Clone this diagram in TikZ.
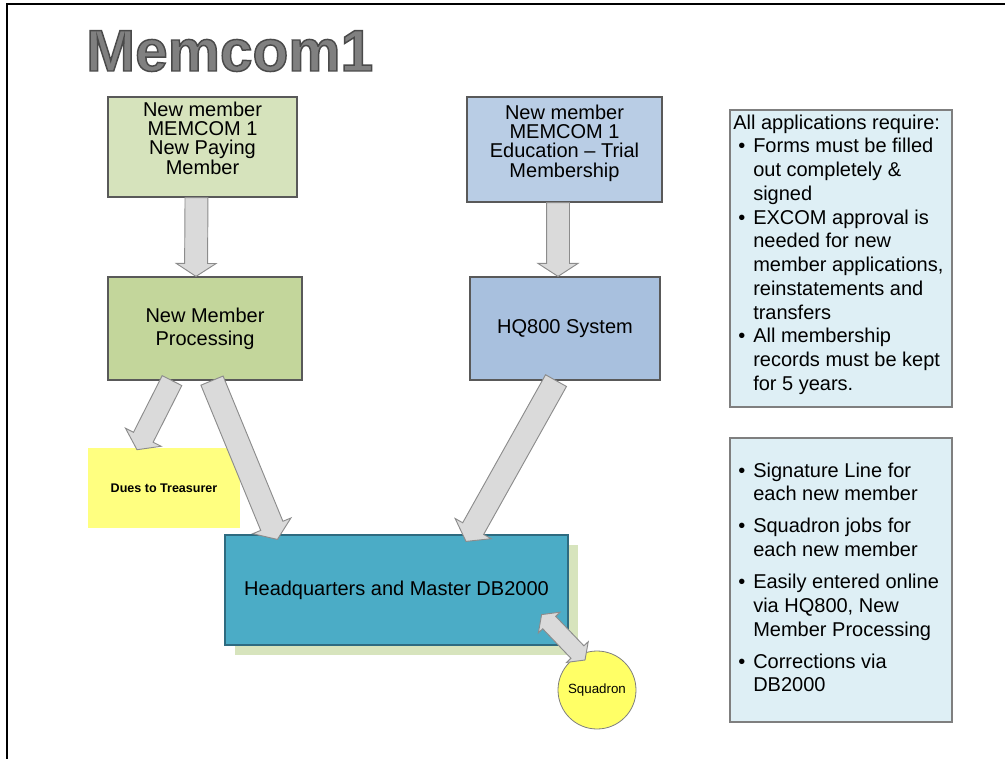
\documentclass[tikz,border=0pt]{standalone}
\usepackage{fontspec}
\setmainfont{Liberation Sans}
\newfontfamily\titlefont[FakeBold=2.5]{Liberation Sans Bold}
\usetikzlibrary{calc}
\definecolor{titlefill}{HTML}{808080}
\definecolor{titleline}{HTML}{4A4A4A}
\definecolor{greenA}{HTML}{D6E3BC}
\definecolor{greenB}{HTML}{C3D69B}
\definecolor{blueC}{HTML}{B9CDE5}
\definecolor{blueD}{HTML}{A8C0DE}
\definecolor{tealF}{HTML}{4BACC6}
\definecolor{tealline}{HTML}{2E6B80}
\definecolor{shadowF}{HTML}{D7E4BD}
\definecolor{yellowE}{HTML}{FFFF80}
\definecolor{yellowG}{HTML}{FFFF66}
\definecolor{infofill}{HTML}{DEEFF5}
\definecolor{infoline}{HTML}{7F7F7F}
\definecolor{boxline}{HTML}{595959}
\definecolor{arrowfill}{HTML}{DADADA}
\definecolor{arrowline}{HTML}{8C8C8C}
\newcommand\itm{\hspace*{3.75pt}\makebox[11.25pt][l]{•}}
\newcommand\cnt{\hspace*{15pt}}
\newcommand\blockarrow[5]{%
  \coordinate (bah) at ($(#2)!#5!(#1)$);
  \filldraw[arrowshape] ($(#1)!#3!90:(#2)$) -- ($(bah)!#3!-90:(#1)$) -- ($(bah)!#4!-90:(#1)$) -- (#2) -- ($(bah)!#4!90:(#1)$) -- ($(bah)!#3!90:(#1)$) -- ($(#1)!#3!-90:(#2)$) -- cycle;}
\newcommand\dblarrow[5]{%
  \coordinate (dah) at ($(#1)!#5!(#2)$);
  \coordinate (dbh) at ($(#2)!#5!(#1)$);
  \filldraw[arrowshape] (#1) -- ($(dah)!#4!90:(#2)$) -- ($(dah)!#3!90:(#2)$) -- ($(dbh)!#3!-90:(#1)$) -- ($(dbh)!#4!-90:(#1)$) -- (#2) -- ($(dbh)!#4!90:(#1)$) -- ($(dbh)!#3!90:(#1)$) -- ($(dah)!#3!-90:(#2)$) -- ($(dah)!#4!-90:(#2)$) -- cycle;}
\tikzset{
  frameline/.style={line width=1.5pt, draw=black},
  procbox/.style={draw=boxline, line width=0.9pt, inner sep=0pt, align=center, font=\fontsize{15}{14.5}\selectfont},
  boxtext/.style={inner sep=0pt, align=center, font=\fontsize{15}{14.5}\selectfont},
  infobox/.style={draw=infoline, fill=infofill, line width=0.9pt, inner sep=0pt},
  infotext/.style={inner sep=0pt, anchor=north west, align=left, font=\fontsize{15}{17.8}\selectfont},
  arrowshape/.style={fill=arrowfill, draw=arrowline, line width=0.7pt, line join=miter},
}
\begin{document}
\begin{tikzpicture}[x=0.75pt,y=-0.75pt]
\useasboundingbox (0,0) rectangle (1005,759);
% frame
\coordinate (fbl) at (7,759);
\coordinate (ftl) at (7,4);
\coordinate (ftr) at (1005,4);
\draw[frameline] (fbl) -- (ftl) -- (ftr);
% title
\node[anchor=base west, inner sep=0pt, text=titlefill, font=\fontsize{44}{50}\selectfont\titlefont] (title) at (86,71) {\special{pdf:literal direct 0.29 0.29 0.29 RG}Memcom1};
% boxes
\node[procbox, fill=greenA, minimum width=141.75pt, minimum height=75pt] (A) at (202.5,147) {};
\node[boxtext] (At) at (202.5,138) {New member\\MEMCOM 1\\New Paying\\Member};
\node[procbox, fill=greenB, minimum width=145.5pt, minimum height=77.25pt, font=\fontsize{15}{17}\selectfont] (B) at (205,328.5) {New Member\\Processing};
\node[procbox, fill=blueC, minimum width=146.25pt, minimum height=78.75pt] (C) at (564.5,149.5) {};
\node[boxtext] (Ct) at (564.5,143) {New member\\MEMCOM 1\\Education – Trial\\Membership};
\node[procbox, fill=blueD, minimum width=142.5pt, minimum height=77.25pt] (D) at (565,328.5) {HQ800 System};
\node[fill=yellowE, inner sep=0pt, minimum width=114pt, minimum height=60pt, font=\fontsize{9.4}{11}\selectfont\bfseries] (E) at (164,488) {Dues to Treasurer};
\node[fill=shadowF, inner sep=0pt, minimum width=257.25pt, minimum height=82.5pt] (Fs) at (406.5,600) {};
\node[procbox, draw=tealline, fill=tealF, minimum width=257.25pt, minimum height=82.5pt] (F) at (396.5,590) {Headquarters and Master DB2000};
\node[circle, draw=infoline, line width=0.6pt, fill=yellowG, inner sep=0pt, minimum size=58.5pt, font=\fontsize{10}{12}\selectfont] (G) at (597,690) {Squadron};
% info boxes
\node[infobox, minimum width=166.5pt, minimum height=222.75pt] (H) at (841,258.5) {};
\node[infotext] (Ht) at (733,114.5) {All applications require:\\
\itm Forms must be filled\\
\cnt out completely \&\\
\cnt signed\\
\itm EXCOM approval is\\
\cnt needed for new\\
\cnt member applications,\\
\cnt reinstatements and\\
\cnt transfers\\
\itm All membership\\
\cnt records must be kept\\
\cnt for 5 years.};
\node[infobox, minimum width=166.5pt, minimum height=213pt] (I) at (841,580) {};
\node[infotext] (It) at (733,462.5) {\itm Signature Line for\\
\cnt each new member\\[6.2pt]
\itm Squadron jobs for\\
\cnt each new member\\[6.2pt]
\itm Easily entered online\\
\cnt via HQ800, New\\
\cnt Member Processing\\[6.2pt]
\itm Corrections via\\
\cnt DB2000};
% arrows
\coordinate (a1s) at ($(A.south)+(-6,0)$);
\coordinate (a1e) at ($(B.north)+(-9,0)$);
\blockarrow{a1s}{a1e}{8.6pt}{15pt}{9.75pt}
\coordinate (a2s) at ($(C.south)+(-6.5,0)$);
\coordinate (a2e) at ($(D.north)+(-7,0)$);
\blockarrow{a2s}{a2e}{8.6pt}{15pt}{9.75pt}
\coordinate (a3s) at ($(B.south)+(-33,0)$);
\coordinate (a3e) at ($(E.north)+(-27,2)$);
\blockarrow{a3s}{a3e}{8.25pt}{15pt}{10.5pt}
\coordinate (a4s) at ($(B.south)+(7,0)$);
\coordinate (a4e) at ($(F.north west)+(53,5)$);
\blockarrow{a4s}{a4e}{9pt}{15.5pt}{11pt}
\coordinate (a5s) at ($(D.south)+(-9,0)$);
\coordinate (a5e) at ($(F.north)+(69.5,7)$);
\blockarrow{a5s}{a5e}{9pt}{15.5pt}{11pt}
\coordinate (a6s) at ($(F.south east)+(-27,-31)$);
\coordinate (a6e) at ($(G.center)+(-12,-30)$);
\dblarrow{a6s}{a6e}{6.75pt}{11.25pt}{8.25pt}
\end{tikzpicture}
\end{document}
